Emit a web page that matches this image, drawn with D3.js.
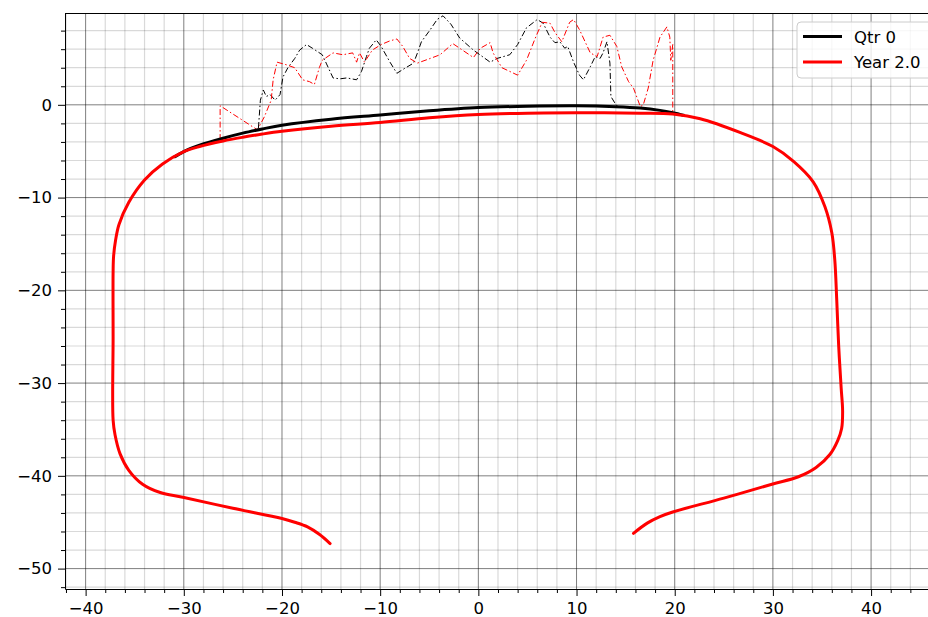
<!DOCTYPE html>
<html lang="en">
<head>
    <meta charset="UTF-8">
    <title>Rail Profile</title>
    <script src="https://d3js.org/d3.v7.min.js"></script>
    <style>
        body { margin: 0; background: #fff; }
        text { font-family: "DejaVu Sans", sans-serif; }
    </style>
</head>
<body>

<div id="chart"></div>

<script>
    // Year 2.0 profile (solid red), traced from left foot round to right foot
    const year2X = [-15.1, -16.2, -17.4, -18.7, -20, -25, -30.1, -32.4, -34.2, -35.6, -36.5, -37.0, -37.2, -37.2,
        -37.2, -37.15, -36.95, -36.6, -35.6, -34.0, -32.2, -30.1, -28.4, -26, -24, -22, -20, -15, -10, -5, 0, 5, 10,
        16.5, 19.8, 22.6, 26.7, 30, 32.1, 34.1, 35.3, 36.0, 36.3, 36.5, 36.7, 36.95, 37.1, 37.0, 36.6, 35.8, 34.4, 32.6, 29.9,
        25, 19.8, 18.5, 17.2, 15.8];
    const year2Y = [-47.3, -46.3, -45.5, -45.0, -44.6, -43.5, -42.3, -41.8, -40.9, -39.4, -37.6, -35.6, -34, -25,
        -18, -16.3, -14.6, -12.9, -10.5, -8.1, -6.4, -5.1, -4.5, -3.9, -3.5, -3.15, -2.85, -2.3, -1.9, -1.4, -1.05, -0.9, -0.85,
        -0.9, -1.0, -1.5, -3.0, -4.5, -6.1, -8.3, -11, -13.8, -16.7, -21, -26, -30.5, -33.0, -34.9, -36.2, -37.7, -39.1, -40.1, -40.9,
        -42.4, -43.9, -44.4, -45.1, -46.2];

    // Qtr 0 profile (solid black), only the head differs from Year 2.0
    const qtr0X = [-31, -30.1, -29.3, -28.4, -26, -24, -22, -20, -15, -10, -5, 0, 5, 10, 14, 16.5, 18.5, 19.8, 21];
    const qtr0Y = [-5.65, -5.1, -4.7, -4.35, -3.6, -3.05, -2.6, -2.2, -1.55, -1.1, -0.65, -0.3, -0.15, -0.1, -0.2, -0.35, -0.6, -0.85, -1.15];

    // Dash-dot traces above the head
    const qtr0WearX = [-22.4, -22.2, -21.9, -21.6, -21.2, -20.7, -20.2, -19.9, -19.4, -18.7, -18.2, -17.5, -16.9,
        -15.9, -15.5, -14.8, -14.1, -13.4, -12.4, -11.9, -11.4, -11.1, -10.4, -9.9, -9, -8.3, -7.7, -6.6, -6.2, -5.8,
        -4.9, -4.2, -3.6, -2.8, -1.9, -0.5, 1.2, 1.9, 3.2, 4.0, 4.9, 6.0, 6.6, 7.3, 7.8, 8.3, 8.8, 9.1, 9.7, 10.3,
        10.7, 11.4, 11.9, 12.4, 12.7, 13.1, 13.4, 13.5, 13.9, 14.2];
    const qtr0WearY = [-2.5, 0.5, 1.6, 0.9, 1.1, 0.5, 1.1, 3.0, 4.0, 5.0, 5.9, 6.5, 6.1, 5.4, 4.5, 2.9, 2.8, 2.9,
        2.7, 3.6, 5.2, 6.1, 7.0, 6.3, 4.6, 3.4, 3.8, 4.5, 5.6, 6.8, 8.1, 9.2, 9.6, 8.7, 7.2, 5.9, 4.6, 5.0, 5.4, 6.5,
        8.3, 9.2, 8.8, 7.3, 6.7, 6.8, 6.1, 6.3, 4.6, 3.2, 2.7, 4.1, 5.2, 5.0, 5.6, 6.8, 4.5, 0.9, 0.2, -0.2];

    const year2WearX = [-26.3, -26.3, -22.5, -21.8, -21.1, -20.9, -20.5, -19.5, -18.7, -17.9, -17.2, -16.7, -16.2,
        -15.9, -14.8, -13.8, -12.8, -12.4, -12.1, -11.6, -10.8, -9.9, -9, -8.3, -7.7, -7, -6.2, -4.9, -3.9, -2.6,
        -1.9, -0.5, 0.2, 1.2, 1.5, 2.4, 4.0, 4.9, 5.8, 6.5, 7.3, 7.8, 8.5, 9.3, 9.7, 10.3, 11.4, 12.1, 12.7, 13.4,
        14.1, 14.6, 15.3, 15.8, 16.5, 16.8, 17.3, 17.8, 18.5, 19.2, 19.5, 19.6, 19.8, 19.8];
    const year2WearY = [-3.8, -0.1, -2.7, -1.3, 0.5, 2.7, 4.6, 4.3, 4.0, 2.7, 2.5, 2.2, 4.0, 4.8, 5.6, 5.4, 5.6,
        4.6, 5.6, 4.6, 5.9, 6.5, 6.9, 7.1, 6.3, 5.0, 4.5, 5.0, 5.4, 6.6, 6.1, 5.1, 6.1, 6.7, 5.6, 4.0, 3.2, 4.8, 7.2,
        8.9, 8.8, 7.8, 6.8, 8.9, 9.2, 8.1, 5.6, 5.2, 7.3, 7.5, 6.3, 4.1, 2.5, 1.8, -0.2, 0.0, 1.8, 4.8, 7.3, 8.4, 7.3,
        4.8, 6.5, -0.9];

    const xTicks = [-40, -30, -20, -10, 0, 10, 20, 30, 40];
    const yTicks = [-50, -40, -30, -20, -10, 0];
    const legendLabels = ["Qtr 0", "Year 2.0"];

    const zip = (xs, ys) => xs.map((v, i) => [v, ys[i]]);

    // Chart dimensions (axes run slightly past the right edge, as in the picture)
    const W = 928, H = 617;
    const margin = { top: 13, right: -2, bottom: 28, left: 65 };
    const width = W - margin.left - margin.right;
    const height = H - margin.top - margin.bottom;

    const svg = d3.select("#chart")
        .append("svg")
        .attr("width", W)
        .attr("height", H)
        .style("display", "block");

    const g = svg.append("g")
        .attr("transform", "translate(" + margin.left + "," + margin.top + ")");

    const x = d3.scaleLinear().domain([-42.1, 46]).range([0, width]);
    const y = d3.scaleLinear().domain([-52.2, 9.9]).range([height, 0]);

    const xMinor = d3.range(-42, 47, 2).filter(v => v % 10 !== 0);
    const yMinor = d3.range(-52, 10, 2).filter(v => v % 10 !== 0);

    // Grid: minor first, then major
    const grid = g.append("g");
    grid.selectAll(".gx-minor").data(xMinor).enter().append("line")
        .attr("x1", d => x(d)).attr("x2", d => x(d)).attr("y1", 0).attr("y2", height)
        .attr("stroke", "#000").attr("stroke-opacity", 0.15).attr("stroke-width", 1.2);
    grid.selectAll(".gy-minor").data(yMinor).enter().append("line")
        .attr("y1", d => y(d)).attr("y2", d => y(d)).attr("x1", 0).attr("x2", width)
        .attr("stroke", "#000").attr("stroke-opacity", 0.15).attr("stroke-width", 1.2);
    grid.selectAll(".gx-major").data(xTicks).enter().append("line")
        .attr("x1", d => x(d)).attr("x2", d => x(d)).attr("y1", 0).attr("y2", height)
        .attr("stroke", "#000").attr("stroke-opacity", 0.5).attr("stroke-width", 1);
    grid.selectAll(".gy-major").data(yTicks).enter().append("line")
        .attr("y1", d => y(d)).attr("y2", d => y(d)).attr("x1", 0).attr("x2", width)
        .attr("stroke", "#000").attr("stroke-opacity", 0.5).attr("stroke-width", 1);

    // Lines
    const smooth = d3.line().x(d => x(d[0])).y(d => y(d[1])).curve(d3.curveCatmullRom.alpha(0.5));
    const raw = d3.line().x(d => x(d[0])).y(d => y(d[1]));

    g.append("path").datum(zip(qtr0WearX, qtr0WearY))
        .attr("d", raw).attr("fill", "none").attr("stroke", "#000")
        .attr("stroke-width", 1).attr("stroke-dasharray", "6,2.5,1.5,2.5");
    g.append("path").datum(zip(year2WearX, year2WearY))
        .attr("d", raw).attr("fill", "none").attr("stroke", "#ff0000")
        .attr("stroke-width", 1).attr("stroke-dasharray", "6,2.5,1.5,2.5");

    g.append("path").datum(zip(qtr0X, qtr0Y))
        .attr("d", smooth).attr("fill", "none").attr("stroke", "#000")
        .attr("stroke-width", 3);
    g.append("path").datum(zip(year2X, year2Y))
        .attr("d", smooth).attr("fill", "none").attr("stroke", "#ff0000")
        .attr("stroke-width", 3).attr("stroke-linecap", "round").attr("stroke-linejoin", "round");

    // Axes
    const fmt = d3.format("");
    g.append("g").attr("transform", "translate(0," + height + ")")
        .call(d3.axisBottom(x).tickValues(xTicks).tickFormat(fmt).tickSize(7).tickPadding(6).tickSizeOuter(0));
    g.append("g").attr("transform", "translate(0," + height + ")")
        .call(d3.axisBottom(x).tickValues(xMinor).tickFormat("").tickSize(4).tickSizeOuter(0))
        .select(".domain").remove();
    g.append("g")
        .call(d3.axisLeft(y).tickValues(yTicks).tickFormat(fmt).tickSize(7).tickPadding(6).tickSizeOuter(0));
    g.append("g")
        .call(d3.axisLeft(y).tickValues(yMinor).tickFormat("").tickSize(4).tickSizeOuter(0))
        .select(".domain").remove();

    g.selectAll(".tick text").attr("font-size", "16.5px").attr("fill", "#000")
        .style("font-family", "'DejaVu Sans', sans-serif");
    g.selectAll(".tick line").attr("stroke", "#000");
    g.selectAll(".domain").attr("stroke", "#000");

    // Top spine
    g.append("line").attr("x1", 0).attr("x2", width).attr("y1", 0.5).attr("y2", 0.5)
        .attr("stroke", "#000").attr("stroke-width", 1);

    // Legend
    const legend = svg.append("g").attr("transform", "translate(797,22)");
    legend.append("rect")
        .attr("width", 150).attr("height", 56).attr("rx", 4)
        .attr("fill", "#fff").attr("fill-opacity", 0.8).attr("stroke", "#ccc");
    const legendColors = ["#000", "#ff0000"];
    legendLabels.forEach((label, i) => {
        legend.append("line")
            .attr("x1", 6).attr("x2", 45).attr("y1", 14.5 + i * 25.5).attr("y2", 14.5 + i * 25.5)
            .attr("stroke", legendColors[i]).attr("stroke-width", 3);
        legend.append("text")
            .attr("x", 57).attr("y", 20.5 + i * 25.5)
            .attr("font-size", "16.5px")
            .text(label);
    });
</script>

</body>
</html>
